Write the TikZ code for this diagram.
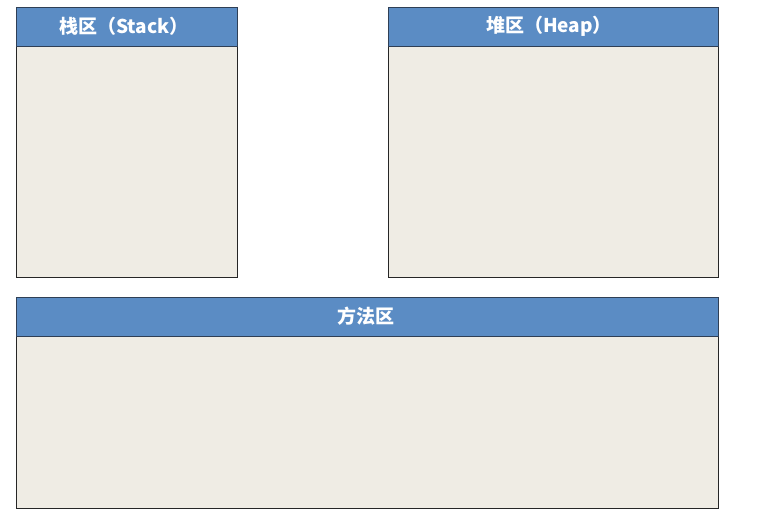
\documentclass[tikz,border=0pt]{standalone}
\usepackage{fontspec}
\newfontfamily\cjk{Noto Sans CJK SC}
\begin{document}
\begin{tikzpicture}[x=1pt,y=-1pt,
  hdr/.style={draw=hdrline, line width=0.9pt, fill=hdrblue},
  bodybox/.style={draw=black!85, line width=0.9pt, fill=bodyfill},
  ttl/.style={text=white, font=\cjk\bfseries\fontsize{19}{22}\selectfont}]
\definecolor{hdrblue}{HTML}{5B8CC4}
\definecolor{hdrline}{HTML}{2F3F55}
\definecolor{bodyfill}{HTML}{EFECE4}
\useasboundingbox (0,0) rectangle (763,530);
% Stack
\draw[bodybox] (16,46) rectangle (237,277);
\draw[hdr] (16,7) rectangle (237,46);
\node[ttl] (stack) at (124,26.5) {栈区（Stack）};
% Heap
\draw[bodybox] (388,46) rectangle (718,277);
\draw[hdr] (388,7) rectangle (718,46);
\node[ttl] (heap) at (549,26.5) {堆区（Heap）};
% Method area
\draw[bodybox] (16,336) rectangle (718,508);
\draw[hdr] (16,297) rectangle (718,336);
\node[ttl] (method) at (366,316.5) {方法区};
\end{tikzpicture}
\end{document}
